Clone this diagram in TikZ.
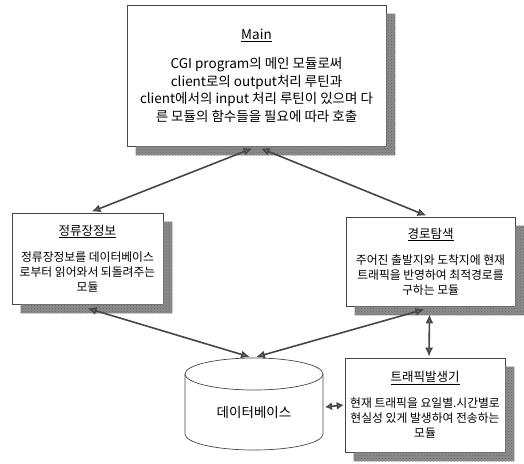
\documentclass[tikz,border=0pt]{standalone}
\usepackage{fontspec}
\setmainfont{Noto Sans CJK KR}
\usetikzlibrary{arrows.meta,patterns}
\definecolor{shadowgray}{RGB}{140,140,140}
\definecolor{linegray}{RGB}{70,70,70}
\definecolor{headgray}{RGB}{130,130,130}
\begin{document}
\begin{tikzpicture}[x=1pt,y=-1pt,
  box/.style={draw=linegray, line width=0.6pt, fill=white, align=center,
    inner sep=0pt, text=black},
  shadowbox/.style={draw=none, fill=shadowgray},
  bodyfont/.style={font=\fontsize{11.8}{15}\selectfont},
  mainfont/.style={font=\fontsize{13.5}{17.5}\selectfont},
  link/.style={draw=linegray, line width=1.6pt,
    {Latex[length=9pt,width=8pt,fill=headgray]}-{Latex[length=9pt,width=8pt,fill=headgray]}}
]
\useasboundingbox (0,0) rectangle (524,463);

\node[box, mainfont, minimum width=259pt, minimum height=141pt] (main) at (256.5,75.5)
  {\underline{Main}\\[12pt]
   CGI program의 메인 모듈로써\\
   client로의 output처리 루틴과\\
   client에서의 input 처리 루틴이 있으며 다\\
   른 모듈의 함수들을 필요에 따라 호출};

\node[box, bodyfont, minimum width=151pt, minimum height=91pt] (lbox) at (87.5,258.5)
  {{\fontsize{12.5}{15}\selectfont\underline{정류장정보}}\\[11pt]
   정류장정보를 데이터베이스\\
   로부터 읽어와서 되돌려주는\\
   모듈};

\node[box, bodyfont, minimum width=169pt, minimum height=89pt] (rbox) at (430.5,261.5)
  {{\fontsize{12.5}{15}\selectfont\underline{경로탐색}}\\[11pt]
   주어진 출발지와 도착지에 현재\\
   트래픽을 반영하여 최적경로를\\
   구하는 모듈};

\node[box, bodyfont, minimum width=160pt, minimum height=94pt] (tbox) at (425,405)
  {{\fontsize{12.5}{15}\selectfont\underline{트래픽발생기}}\\[11pt]
   현재 트래픽을 요일별.시간별로\\
   현실성 있게 발생하여 전송하는\\
   모듈};

% drop shadows, drawn after the boxes, anchored on them
\foreach \n in {main,lbox,rbox,tbox}{
  \path[shadowbox]
    ([shift={(0pt,-9pt)}]\n.north east) -- ([shift={(9pt,-9pt)}]\n.north east)
    -- ([shift={(9pt,-9pt)}]\n.south east) -- ([shift={(9pt,-9pt)}]\n.south west)
    -- ([shift={(9pt,0pt)}]\n.south west) -- (\n.south east) -- cycle;
  \path[pattern=crosshatch dots, pattern color=black!60]
    ([shift={(0pt,-9pt)}]\n.north east) -- ([shift={(9pt,-9pt)}]\n.north east)
    -- ([shift={(9pt,-9pt)}]\n.south east) -- ([shift={(9pt,-9pt)}]\n.south west)
    -- ([shift={(9pt,0pt)}]\n.south west) -- (\n.south east) -- cycle;
}

% database cylinder
\draw[linegray, line width=0.7pt] (254,374) ellipse [x radius=69, y radius=16];
\draw[linegray, line width=0.7pt] (185,374) -- (185,434)
  arc[start angle=180, end angle=0, x radius=69, y radius=16] -- (323,374);
\node[font=\fontsize{13.5}{15}\selectfont] (db) at (254,412) {데이터베이스};
\coordinate (dbtop) at (254,357);
\coordinate (dbright) at (325,407);

% connector end points
\coordinate (mL) at ([xshift=-4pt,yshift=-2pt]main.south);
\coordinate (mR) at ([xshift=4pt,yshift=-2pt]main.south);
\coordinate (lT) at ([xshift=4pt,yshift=1pt]lbox.north);
\coordinate (rT) at ([xshift=-4pt,yshift=1pt]rbox.north);
\coordinate (lB) at ([xshift=0pt,yshift=-4pt]lbox.south);
\coordinate (rB) at ([xshift=-6pt,yshift=-3pt]rbox.south);
\coordinate (rB2) at ([xshift=-1pt,yshift=-8pt]rbox.south);
\coordinate (dL) at ([xshift=-4pt]dbtop);
\coordinate (dR) at ([xshift=2pt]dbtop);
\coordinate (tT) at ([xshift=4pt,yshift=1pt]tbox.north);

\draw[link] (lT) -- (mL);
\draw[link] (mR) -- (rT);
\draw[link] (lB) -- (dL);
\draw[link] (rB) -- (dR);
\draw[link] (rB2) -- (tT);
\draw[draw=linegray, line width=1.6pt,
  {Latex[length=7pt,width=8pt,fill=headgray]}-{Latex[length=7pt,width=8pt,fill=headgray]}]
  (dbright) -- ([xshift=-1pt]tbox.west);
\end{tikzpicture}
\end{document}
